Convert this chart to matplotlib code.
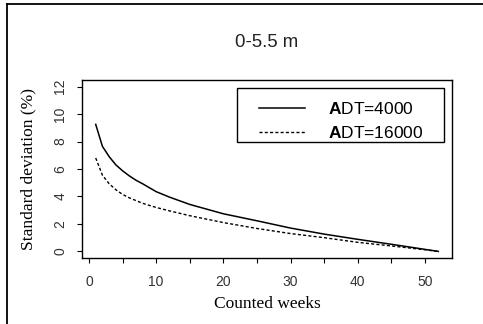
import matplotlib
matplotlib.use("Agg")
import matplotlib.pyplot as plt
from matplotlib.lines import Line2D
from matplotlib.patches import Rectangle

plt.rcParams['mathtext.fontset'] = 'custom'
plt.rcParams['mathtext.rm'] = 'Liberation Sans'
plt.rcParams['mathtext.bf'] = 'Liberation Sans:bold'

weeks = [1, 2, 3, 4, 5, 6, 7, 8, 10, 12, 15, 20, 25, 30, 35, 40, 45, 50, 52]
adt4000 = [9.25, 7.65, 6.9, 6.3, 5.87, 5.5, 5.18, 4.92, 4.35, 3.95, 3.42, 2.74, 2.23, 1.7, 1.26, 0.88, 0.52, 0.15, 0.0]
adt16000 = [6.8, 5.55, 4.93, 4.49, 4.15, 3.9, 3.7, 3.5, 3.2, 2.95, 2.6, 2.1, 1.67, 1.3, 1.0, 0.66, 0.4, 0.12, 0.0]
labels = [r'$\mathbf{A}$DT=4000', r'$\mathbf{A}$DT=16000']
xticks = [0, 10, 20, 30, 40, 50]
xminor = [5, 15, 25, 35, 45]
yticks = [0, 2, 4, 6, 8, 10, 12]

W, H = 483, 324
AX_L, AX_B, AX_W, AX_H = 82, 258, 370, 178
fig = plt.figure(figsize=(W / 100, H / 100), dpi=100)
ax = fig.add_axes([AX_L / W, 1 - AX_B / H, AX_W / W, AX_H / H])

ax.plot(weeks, adt4000, color='black', lw=1.1, label=labels[0])
ax.plot(weeks, adt16000, color='black', lw=1.0, linestyle=(0, (2.2, 1.6)), label=labels[1])

ax.set_xlim(-1.04, 54.04)
ax.set_ylim(-0.48, 12.48)
ax.set_xticks(xticks)
ax.set_xticks(xminor, minor=True)
ax.set_yticks(yticks)
ax.set_xticklabels([str(v) for v in xticks], fontsize=10, color='#333333', family='Liberation Sans')
ax.set_yticklabels([str(v) for v in yticks], fontsize=10, color='#333333', family='Liberation Sans',
                   rotation=90, va='center', ha='right')
ax.tick_params(axis='x', which='both', length=3.6, width=0.8, pad=9, direction='out')
ax.tick_params(axis='y', which='both', length=3.6, width=0.8, pad=7, direction='out')
for sp in ax.spines.values():
    sp.set_linewidth(1.0)

def axfrac(px, py):
    return ((px - AX_L) / AX_W, (AX_B - py) / AX_H)

# legend content (frame drawn separately to match the wide padding of the original)
leg = ax.legend(loc='upper left', bbox_to_anchor=axfrac(259, 101.5), frameon=False,
                borderpad=0, handlelength=2.65, handletextpad=1.32, labelspacing=0.42,
                borderaxespad=0, prop={'family': 'Liberation Sans', 'size': 12.5})
x0, y0 = axfrac(237, 142)
x1, y1 = axfrac(444, 88)
ax.add_patch(Rectangle((x0, y0), x1 - x0, y1 - y0, transform=ax.transAxes, fill=True,
                       facecolor='white', edgecolor='black', lw=1.0, zorder=4))
leg.set_zorder(5)

fig.text(267 / W, 1 - 46.7 / H, '0-5.5 m', ha='center', va='baseline', fontsize=13.4,
         family='Liberation Sans', color='#222222')
fig.text(267 / W, 1 - 308 / H, 'Counted weeks', ha='center', va='baseline', fontsize=12.5,
         family='Liberation Serif')
fig.text(32 / W, 1 - 169 / H, 'Standard deviation (%)', ha='center', va='baseline', rotation=90,
         rotation_mode='anchor', fontsize=12.5, family='Liberation Serif')

# outer frame (top and left edges visible)
fig.add_artist(Line2D([7 / W, 7 / W], [0, 1 - 4 / H], transform=fig.transFigure, color='black', lw=1.3))
fig.add_artist(Line2D([7 / W, 1], [1 - 4 / H, 1 - 4 / H], transform=fig.transFigure, color='black', lw=1.3))

fig.savefig('out.png', dpi=100)
